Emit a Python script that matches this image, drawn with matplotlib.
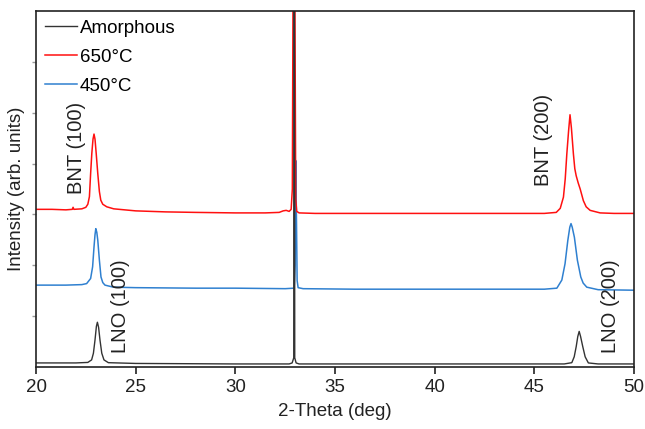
import matplotlib
matplotlib.use('Agg')
import matplotlib.pyplot as plt

plt.rcParams['font.family'] = ['Liberation Sans', 'DejaVu Sans']

# 2-theta positions and offset intensities
x_650 = [20.0, 20.8, 21.5, 21.82, 21.86, 21.9, 22.3, 22.5, 22.6, 22.68, 22.74, 22.8, 22.86,
         22.91, 22.96, 23.02, 23.1, 23.18, 23.25, 23.35, 23.55, 23.9, 25.0, 26.5, 28.0, 30.0,
         31.5, 32.2, 32.4, 32.55, 32.7, 32.8, 32.86, 32.9, 32.98, 33.03, 33.08, 33.2, 34.0,
         36.0, 38.0, 40.0, 42.0, 44.0, 45.5, 46.1, 46.3, 46.46, 46.55, 46.63, 46.72, 46.79,
         46.86, 46.96, 47.03, 47.1, 47.2, 47.3, 47.46, 47.6, 47.8, 48.3, 49.0, 50.0]
y_650 = [3.10, 3.10, 3.09, 3.10, 3.14, 3.10, 3.11, 3.14, 3.20, 3.35, 3.80, 4.20, 4.48,
         4.58, 4.48, 4.20, 3.80, 3.45, 3.28, 3.20, 3.15, 3.11, 3.07, 3.05, 3.04, 3.03,
         3.03, 3.04, 3.07, 3.08, 3.06, 3.10, 3.50, 8.00, 8.00, 3.30, 3.06, 3.03, 3.02,
         3.02, 3.02, 3.02, 3.02, 3.02, 3.02, 3.04, 3.12, 3.34, 3.70, 4.19, 4.65, 4.96,
         4.70, 4.19, 3.90, 3.76, 3.62, 3.50, 3.27, 3.15, 3.08, 3.03, 3.02, 3.02]

x_450 = [20.0, 21.5, 22.3, 22.54, 22.74, 22.84, 22.91, 22.96, 23.0, 23.05, 23.1, 23.18,
         23.26, 23.35, 23.46, 23.88, 25.0, 28.0, 30.0, 32.5, 32.95, 33.0, 33.03, 33.07,
         33.1, 33.15, 33.4, 36.0, 40.0, 44.0, 45.5, 46.13, 46.38, 46.54, 46.68, 46.78,
         46.84, 46.9, 47.01, 47.16, 47.33, 47.45, 47.63, 48.2, 50.0]
y_450 = [1.61, 1.61, 1.62, 1.64, 1.74, 1.97, 2.36, 2.60, 2.72, 2.65, 2.49, 2.10,
         1.77, 1.66, 1.61, 1.57, 1.56, 1.55, 1.55, 1.54, 1.55, 2.00, 4.06, 2.80,
         1.70, 1.56, 1.54, 1.53, 1.53, 1.53, 1.53, 1.55, 1.71, 2.03, 2.49, 2.75,
         2.82, 2.75, 2.55, 2.10, 1.77, 1.65, 1.57, 1.52, 1.51]

x_amor = [20.0, 22.0, 22.6, 22.79, 22.88, 22.96, 23.03, 23.08, 23.14, 23.21, 23.3, 23.41,
          23.63, 25.0, 30.0, 32.7, 32.85, 32.93, 32.945, 32.965, 32.98, 33.05, 33.2, 40.0,
          46.5, 46.88, 47.0, 47.1, 47.18, 47.25, 47.32, 47.43, 47.55, 47.71, 48.2, 50.0]
y_amor = [0.08, 0.08, 0.09, 0.14, 0.27, 0.53, 0.80, 0.88, 0.78, 0.53, 0.27, 0.14,
          0.085, 0.07, 0.06, 0.06, 0.08, 0.18, 9.00, 9.00, 0.18, 0.08, 0.06, 0.06,
          0.06, 0.085, 0.20, 0.40, 0.60, 0.70, 0.60, 0.40, 0.20, 0.08, 0.06, 0.06]

peak_labels = ['BNT (100)', 'LNO (100)', 'BNT (200)', 'LNO (200)']
peak_label_x = [22.05, 24.25, 45.45, 48.8]
peak_label_y = [4.3, 1.2, 4.47, 1.2]

fig = plt.figure(figsize=(6.45, 4.29), dpi=100)
ax = fig.add_axes([36/645, 1 - 367/429, 598/645, 356/429])

l450, = ax.plot(x_450, y_450, color='#2f80d0', lw=1.1, label='450°C')
l650, = ax.plot(x_650, y_650, color='#ff1010', lw=1.1, label='650°C')
lam, = ax.plot(x_amor, y_amor, color='#333333', lw=1.0, label='Amorphous')

for txt, tx, ty in zip(peak_labels, peak_label_x, peak_label_y):
    ax.text(tx, ty, txt, rotation=90, ha='center', va='center', fontsize=14.5, color='#222222')

ax.set_xlim(20, 50)
ax.set_ylim(0, 7)
ax.set_xticks(range(20, 51, 5))
ax.set_yticks(range(1, 7))
ax.tick_params(axis='x', direction='out', length=5, width=1.2, labelsize=13.5, colors='#222222')
ax.tick_params(axis='y', direction='out', length=3, width=1.0, color='#999999', labelleft=False)
for s in ax.spines.values():
    s.set_linewidth(1.2)
    s.set_color('#222222')

ax.set_xlabel('2-Theta (deg)', fontsize=13.5, color='#222222', labelpad=5)
ax.set_ylabel('Intensity (arb. units)', fontsize=13.5, color='#222222', labelpad=5)

ax.legend(handles=[lam, l650, l450], loc='upper left', bbox_to_anchor=(0.015, 0.976),
          frameon=False, fontsize=13.5, handlelength=1.7, handletextpad=0.15,
          labelspacing=0.64, borderaxespad=0, borderpad=0)

fig.savefig('out.png', dpi=100)
